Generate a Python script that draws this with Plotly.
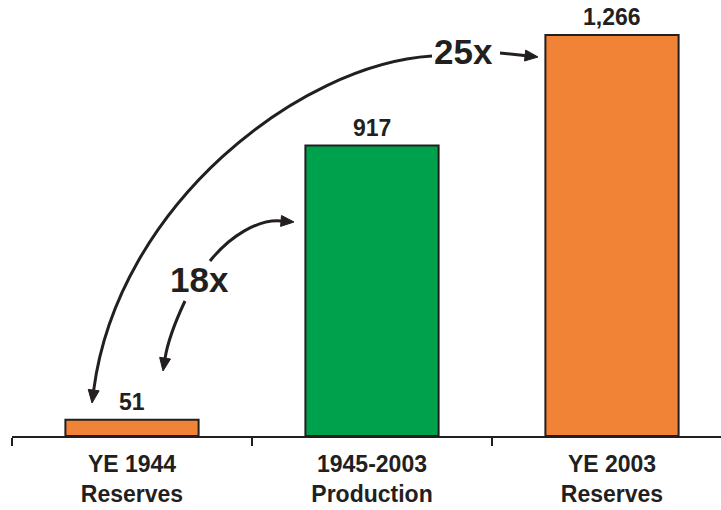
import plotly.graph_objects as go

# Reserves vs. cumulative production (values shown above each bar)
categories = ["YE 1944<br>Reserves", "1945-2003<br>Production", "YE 2003<br>Reserves"]
values = [51, 917, 1266]
bar_colors = ["#F08336", "#00A14D", "#F08336"]
ratio_labels = ["18x", "25x"]

INK = "#231F20"
W, H = 721, 510
ML, MR, MT, MB = 12, 0, 0, 74
PW, PH = W - ML - MR, H - MT - MB


def paper(px, py):
    """Convert a canvas pixel position into paper coordinates."""
    return (px - ML) / PW, (H - MB - py) / PH


def bezier_path(p0, p1, p2, p3):
    pts = [paper(*p) for p in (p0, p1, p2, p3)]
    (x0, y0), (x1, y1), (x2, y2), (x3, y3) = pts
    return f"M {x0},{y0} C {x1},{y1} {x2},{y2} {x3},{y3}"


def head(tip, frm, length=13, half=5.5):
    """Filled triangular arrow head at `tip`, pointing away from `frm`."""
    dx, dy = tip[0] - frm[0], tip[1] - frm[1]
    n = (dx * dx + dy * dy) ** 0.5
    dx, dy = dx / n, dy / n
    bx, by = tip[0] - length * dx, tip[1] - length * dy
    nx, ny = -dy, dx
    a = paper(*tip)
    b = paper(bx + half * nx, by + half * ny)
    c = paper(bx - half * nx, by - half * ny)
    path = f"M {a[0]},{a[1]} L {b[0]},{b[1]} L {c[0]},{c[1]} Z"
    base = (bx, by)
    return path, base


fig = go.Figure(
    go.Bar(
        x=categories,
        y=values,
        width=0.555,
        marker=dict(color=bar_colors, line=dict(color=INK, width=2)),
        hoverinfo="skip",
    )
)

shapes = []
line_style = dict(color=INK, width=3)


def curved_arrow(p0, p1, p2, tip):
    hp, base = head(tip, p2)
    shapes.append(dict(type="path", xref="paper", yref="paper",
                       path=bezier_path(p0, p1, p2, base), line=line_style))
    shapes.append(dict(type="path", xref="paper", yref="paper", path=hp,
                       fillcolor=INK, line=dict(color=INK, width=1)))


# long arc from the "25x" label down to the first bar
curved_arrow((432, 56), (300, 64), (118, 205), (92, 403))
# "18x" arcs
curved_arrow((210, 261), (230, 236), (258, 219), (294, 222))
curved_arrow((185, 301), (177, 318), (168, 340), (163, 371))
# short arrow towards the last bar
curved_arrow((500, 53), (512, 54), (520, 55), (538, 57))

annotations = []
for cat, v in zip(categories, values):
    annotations.append(dict(
        x=cat, y=v, xref="x", yref="y", text=f"<b>{v:,}</b>", showarrow=False,
        yanchor="middle", yshift=18,
        font=dict(family="Liberation Sans, Arial", size=23, color=INK),
    ))

for txt, (px, py) in zip(ratio_labels, [(200, 280), (463, 52)]):
    xp, yp = paper(px, py)
    annotations.append(dict(
        x=xp, y=yp, xref="paper", yref="paper", text=f"<b>{txt}</b>",
        showarrow=False, xanchor="center", yanchor="middle",
        font=dict(family="Liberation Sans, Arial", size=35, color=INK),
    ))

y_top = 1266 * PH / 401

fig.update_layout(
    width=W, height=H,
    margin=dict(l=ML, r=MR, t=MT, b=MB),
    paper_bgcolor="white", plot_bgcolor="white",
    showlegend=False,
    bargap=0.445,
    shapes=shapes,
    annotations=annotations,
    xaxis=dict(
        type="category",
        range=[-0.5, -0.5 + PW / 240],
        tickson="boundaries",
        ticks="outside", ticklen=8, tickwidth=2, tickcolor=INK,
        ticklabelstandoff=6,
        showline=True, linewidth=2, linecolor=INK,
        showgrid=False, zeroline=False,
        tickfont=dict(family="Liberation Sans, Arial", size=23, color=INK),
        tickmode="array", tickvals=categories,
        ticktext=[f"<b>{c.replace('<br>', '</b><br><b>')}</b>" for c in categories],
    ),
    yaxis=dict(range=[0, y_top], visible=False, showgrid=False, zeroline=False),
)

fig.write_html("out.html")
